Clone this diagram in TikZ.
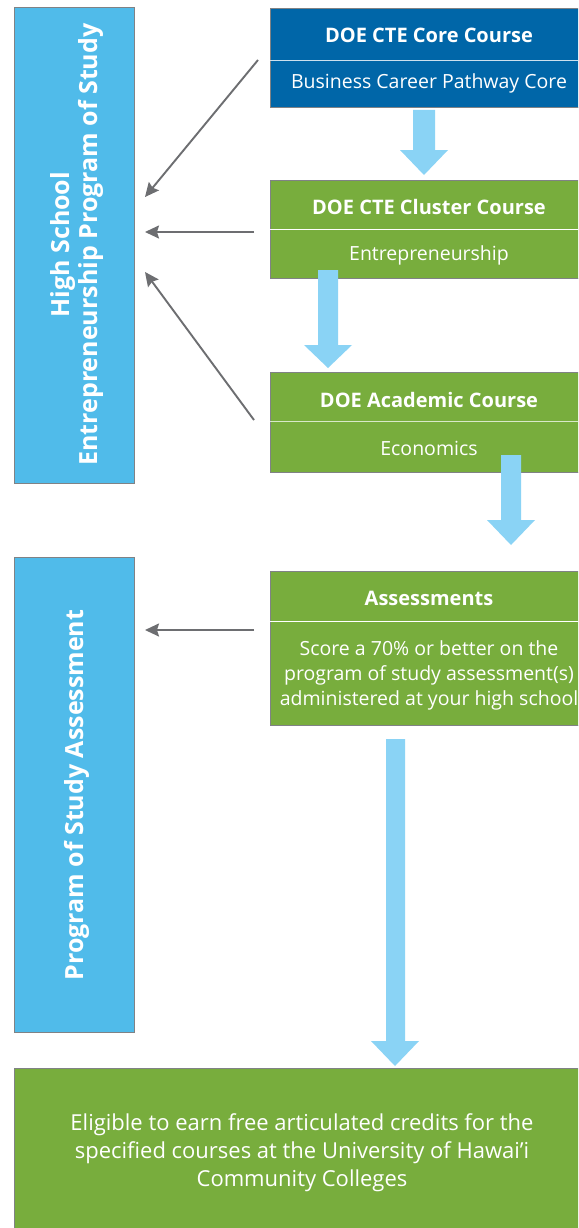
\documentclass[tikz,border=0pt]{standalone}
\usepackage{fontspec}
\setmainfont{Open Sans}
\usetikzlibrary{arrows.meta,calc}
\definecolor{navy}{HTML}{0066A8}
\definecolor{grn}{HTML}{78AD3D}
\definecolor{sky}{HTML}{50BBEA}
\definecolor{pale}{HTML}{8AD3F5}
\definecolor{edge}{HTML}{808285}
\definecolor{arr}{HTML}{6D6E71}
\definecolor{rule}{HTML}{D8E8C8}
\tikzset{
  box/.style={draw=edge,line width=1.2pt,inner sep=0pt},
  ttl/.style={text=white,font=\bfseries\fontsize{20}{24}\selectfont,inner sep=0pt},
  bdy/.style={text=white,font=\fontsize{19.5}{24}\selectfont,inner sep=0pt,align=center},
  divider/.style={line width=1pt},
  fat/.style={fill=pale,draw=none},
  garrow/.style={draw=arr,line width=1.9pt,-{Stealth[length=14pt,width=13pt,inset=2pt]}},
  side/.style={text=white,font=\bfseries\fontsize{25}{28}\selectfont,align=center,rotate=90,inner sep=0pt}
}
\begin{document}
\begin{tikzpicture}[x=1pt,y=-1pt]
\clip (0,0) rectangle (578,1228);
\fill[white] (0,0) rectangle (578,1228);
% left boxes
\node[box,fill=sky,anchor=north west,minimum width=120pt,minimum height=476pt] (hs) at (14,7) {};
\node[side] (hst) at ($(hs.center)+(2,-1)$) {High School\\Entrepreneurship Program of Study};
\node[box,fill=sky,anchor=north west,minimum width=120pt,minimum height=475pt] (pa) at (14,557) {};
\node[side] (pat) at ($(pa.center)+(2,0)$) {Program of Study Assessment};
% core
\node[box,fill=navy,anchor=north west,minimum width=312pt,minimum height=99pt] (core) at (270,8) {};
\draw[divider,draw=white!80!navy] (270,61) -- (580,61);
\node[ttl] (coret) at (429,35) {DOE CTE Core Course};
\node[bdy] (coreb) at (429,83) {Business Career Pathway Core};
% cluster
\node[box,fill=grn,anchor=north west,minimum width=312pt,minimum height=98pt] (clu) at (270,180) {};
\draw[divider,draw=white] (270,229) -- (580,229);
\node[ttl] (clut) at (429,207) {DOE CTE Cluster Course};
\node[bdy] (club) at (429,255) {Entrepreneurship};
% academic
\node[box,fill=grn,anchor=north west,minimum width=312pt,minimum height=100pt] (aca) at (270,372) {};
\draw[divider,draw=rule] (270,421) -- (580,421);
\node[ttl] (acat) at (429,400) {DOE Academic Course};
\node[bdy] (acab) at (429,448) {Economics};
% assessments
\node[box,fill=grn,anchor=north west,minimum width=312pt,minimum height=154pt] (ass) at (270,571) {};
\draw[divider,draw=white] (270,621) -- (580,621);
\node[ttl] (asst) at (429,598) {Assessments};
\node[bdy,font=\fontsize{19.5}{25}\selectfont] (assb) at (429,675) {Score a 70\% or better on the\\program of study assessment(s)\\administered at your high school};
% final
\node[box,fill=grn,anchor=north west,minimum width=570pt,minimum height=170pt] (fin) at (14,1068) {};
\node[bdy,font=\fontsize{22}{28}\selectfont] (fint) at (302,1153) {Eligible to earn free articulated credits for the\\specified courses at the University of Hawai’i\\Community Colleges};
% fat arrows
\fill[fat] (413,110) -- (435,110) -- (435,150) -- (448,150) -- (424,175) -- (400,150) -- (413,150) -- cycle;
\fill[fat] (318,270) -- (338,270) -- (338,345) -- (352,345) -- (328,368) -- (304,345) -- (318,345) -- cycle;
\fill[fat] (501,455) -- (521,455) -- (521,520) -- (535,520) -- (511,545) -- (487,520) -- (501,520) -- cycle;
\fill[fat] (386,739) -- (405,739) -- (405,1041) -- (419,1041) -- (395,1066) -- (371,1041) -- (386,1041) -- cycle;
% gray arrows
\coordinate (s1) at (258,60);
\coordinate (e1) at (145,197);
\coordinate (s2) at (254,232);
\coordinate (e2) at (145,232);
\coordinate (s3) at (254,420);
\coordinate (e3) at (145,272);
\coordinate (s4) at (254,630);
\coordinate (e4) at (145,630);
\draw[garrow] (s1) -- (e1);
\draw[garrow] (s2) -- (e2);
\draw[garrow] (s3) -- (e3);
\draw[garrow] (s4) -- (e4);
\end{tikzpicture}
\end{document}
